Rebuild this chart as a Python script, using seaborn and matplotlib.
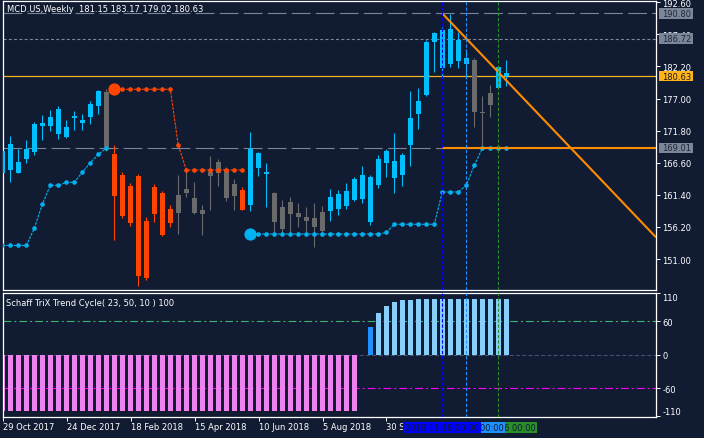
import numpy as np
import pandas as pd
import matplotlib
matplotlib.use("Agg")
import matplotlib.pyplot as plt
import matplotlib.transforms as mtransforms
from matplotlib.patches import Rectangle
import seaborn as sns

# ---------------- data ----------------
symbol_title = "MCD.US,Weekly  181.15 183.17 179.02 180.63"
indicator_title = "Schaff TriX Trend Cycle( 23, 50, 10 ) 100"

bars = list(range(64))
opens = [165.00, 169.60, 165.00, 167.20, 168.40, 172.60, 172.60, 175.30, 170.80, 174.20,
         173.00, 174.05, 175.85, 178.05, 168.00, 164.60, 156.80, 164.45, 147.90, 158.30,
         161.70, 156.80, 158.45, 161.75, 160.90, 158.35, 164.50, 164.90, 165.60, 163.15,
         162.20, 159.80, 168.20, 165.10, 161.70, 155.90, 160.20, 158.45, 157.80, 157.65,
         155.55, 158.70, 159.10, 159.65, 160.55, 160.75, 164.30, 163.05, 166.60, 166.83,
         164.65, 169.50, 174.50, 177.58, 186.20, 188.10, 182.60, 186.54, 183.57, 183.25,
         174.82, 175.95, 178.70, 181.15]
highs = [168.90, 170.90, 168.90, 170.30, 173.25, 174.30, 175.15, 175.80, 173.50, 175.00,
         174.50, 176.60, 178.40, 178.55, 169.50, 165.05, 163.30, 164.80, 157.80, 163.15,
         162.00, 159.70, 164.60, 165.10, 163.50, 159.75, 167.70, 167.20, 165.85, 163.95,
         162.65, 171.60, 168.30, 166.55, 161.85, 160.55, 161.05, 160.05, 159.40, 160.05,
         159.60, 162.35, 162.20, 163.30, 164.30, 166.10, 164.60, 167.85, 168.90, 171.40,
         168.20, 178.20, 178.70, 186.54, 187.80, 188.60, 190.70, 187.80, 185.00, 183.57,
         177.40, 179.20, 182.28, 183.17]
lows = [164.50, 163.40, 164.90, 166.60, 167.85, 170.30, 171.75, 170.40, 170.60, 171.95,
        171.90, 172.80, 174.50, 168.55, 154.10, 157.65, 156.40, 146.70, 147.65, 157.05,
        154.70, 156.20, 155.05, 161.10, 158.30, 154.90, 158.95, 162.80, 160.45, 159.00,
        158.95, 158.85, 164.50, 159.50, 155.25, 155.05, 155.05, 156.25, 155.20, 153.00,
        155.20, 157.15, 158.20, 159.10, 160.40, 160.05, 156.55, 162.55, 164.35, 161.75,
        162.90, 166.10, 172.05, 177.40, 181.30, 180.45, 182.10, 181.95, 180.33, 172.40,
        169.00, 174.00, 178.55, 179.02]
closes = [168.45, 165.47, 166.70, 168.90, 172.90, 173.00, 174.00, 171.30, 172.40, 173.85,
          173.50, 176.10, 178.30, 169.10, 161.25, 158.00, 162.90, 148.30, 157.15, 162.65,
          154.90, 159.10, 161.40, 162.35, 158.45, 158.95, 165.05, 166.70, 160.90, 161.20,
          159.00, 168.80, 165.80, 164.80, 157.05, 159.40, 158.35, 157.80, 157.15, 156.25,
          158.60, 161.05, 161.55, 162.00, 163.95, 164.60, 157.05, 167.20, 168.50, 164.17,
          167.85, 173.85, 176.60, 186.17, 187.62, 181.95, 188.27, 183.09, 182.60, 174.82,
          174.66, 177.90, 182.11, 180.63]
# candle colouring state: U = up trend, D = down trend, F = flat
trend = list("UUUUUUUUUUUUUF" "DDDDDDDD" "FFFFFFFF" "D" "UUU" "FFFFFFF"
             "UUUUUUUUUUUUUUUUUU" "FFF" "UU")

N = None
stop_up = [153.2, 153.2, 153.2, 153.2, 155.97, 159.86, 162.94, 162.94, 163.43, 163.43,
           165.05, 166.6, 167.97, 168.94,
           N, N, N, N, N, N, N, N, N, N, N, N, N, N, N, N, N,
           155.05, 155.05, 155.05, 155.05, 155.05, 155.05, 155.05, 155.05, 155.05, 155.05,
           155.05, 155.05, 155.05, 155.05, 155.05, 155.05, 155.05, 155.3,
           156.63, 156.63, 156.63, 156.63, 156.63, 156.63,
           161.86, 161.86, 161.86, 162.94, 166.18, 168.94, 168.94, 168.94, 168.94]
stop_dn = [N, N, N, N, N, N, N, N, N, N, N, N, N, N,
           178.5, 178.5, 178.5, 178.5, 178.5, 178.5, 178.5, 178.5, 169.42,
           165.42, 165.42, 165.42, 165.42, 165.42, 165.42, 165.42, 165.42,
           N, N, N, N, N, N, N, N, N, N, N, N, N, N, N, N, N,
           N, N, N, N, N, N, N, N, N, N, N, N, N, N, N, N]

stc = [-100, -100, -100, -100, -100, -100, -100, -100, -100, -100,
       -100, -100, -100, -100, -100, -100, -100, -100, -100, -100,
       -100, -100, -100, -100, -100, -100, -100, -100, -100, -100,
       -100, -100, -100, -100, -100, -100, -100, -100, -100, -100,
       -100, -100, -100, -100, -100, 0, 50, 75, 87.5, 94.5,
       98, 98, 100, 100, 100, 100, 100, 100, 100, 100,
       100, 100, 100, 100]

xtick_bars = [0, 8, 16, 24, 32, 40, 48]
xtick_labels = ["29 Oct 2017", "24 Dec 2017", "18 Feb 2018", "15 Apr 2018",
                "10 Jun 2018", "5 Aug 2018", "30 Sep 2018"]
price_ticks = [192.60, 187.40, 182.20, 177.00, 171.80, 166.60, 161.40, 156.20, 151.00]

level_high = 190.80
level_mid = 186.72
last_price = 180.63
level_support = 169.01
trend_p1 = (55, 190.80)
trend_p2 = (71, 169.07)

vline_bars = [62, 58, 55]
vline_colors = ["#2a8f2a", "#1E90FF", "#0000FF"]
vline_labels = ["2019.01.06 00:00", "2018.12.09 00:00", "2018.11.18 00:00"]

# ---------------- style ----------------
BG = "#111c33"
sns.set_theme(style="dark", rc={"axes.facecolor": BG, "figure.facecolor": BG})
plt.rcParams["font.family"] = ["DejaVu Sans"]
plt.rcParams["lines.scale_dashes"] = False
FS = 6

W, H = 704, 439
def rect(x0, x1, ytop, ybot):
    return [x0 / W, 1 - ybot / H, (x1 - x0) / W, (ybot - ytop) / H]

fig = plt.figure(figsize=(W / 100, H / 100), dpi=100)
ax = fig.add_axes(rect(2.7, 656, 2.3, 291))
ax2 = fig.add_axes(rect(2.7, 656, 294, 418))

def bar_of_px(px):
    return (px - 2.3) / 8.0
XL = (bar_of_px(2.7), bar_of_px(656))

# ---------------- main panel ----------------
df = pd.DataFrame(dict(bar=bars, open=opens, high=highs, low=lows, close=closes, trend=trend))
cmap = {"U": "#00BFFF", "D": "#FF4500", "F": "#6A6A6A"}
df["color"] = df["trend"].map(cmap)
body_lo = np.minimum(df["open"], df["close"])
body_h = np.maximum(np.abs(df["close"] - df["open"]), 0.17)

GRAY = "#7b8798"
ax.axhline(level_high, color=GRAY, lw=0.8, dashes=(13.5, 3.8), zorder=1)
ax.axhline(level_mid, color=GRAY, lw=0.8, dashes=(2.2, 1.6), zorder=1)
ax.axhline(level_support, color=GRAY, lw=0.8, dashes=(13.5, 3.8), zorder=1)
ax.axhline(last_price, color="#F2B322", lw=0.9, zorder=1)

ax.vlines(df["bar"], df["low"], df["high"], colors=df["color"], lw=0.8, zorder=3)
ax.bar(df["bar"], body_h, bottom=body_lo, width=0.62, color=df["color"], linewidth=0, zorder=4)

def segments(vals):
    segs, cur = [], []
    for i, v in enumerate(vals):
        if v is None:
            if cur:
                segs.append(cur)
                cur = []
        else:
            cur.append(i)
    if cur:
        segs.append(cur)
    return segs

for vals, col in ((stop_up, "#00B2F0"), (stop_dn, "#FF4500")):
    for seg in segments(vals):
        xs = seg
        ys = [vals[i] for i in seg]
        sns.lineplot(x=xs, y=ys, color=col, lw=0.8, linestyle=(0, (2.0, 0.8)), ax=ax, zorder=5)
        sns.scatterplot(x=xs, y=ys, color=col, s=11, linewidth=0, ax=ax, zorder=6)
        if seg[0] > 0:
            sns.scatterplot(x=[seg[0]], y=[ys[0]], color=col, s=78, linewidth=0, ax=ax, zorder=6)

# support segment + trendline
ax.hlines(level_support, trend_p1[0], XL[1], color="#FF8C00", lw=1.5, zorder=7)
slope = (trend_p2[1] - trend_p1[1]) / (trend_p2[0] - trend_p1[0])
ax.plot([trend_p1[0], XL[1]], [trend_p1[1], trend_p1[1] + slope * (XL[1] - trend_p1[0])],
        color="#FF8C00", lw=1.5, zorder=7, solid_capstyle="butt")

for b, c in zip(vline_bars, vline_colors):
    ax.axvline(b, color=c, lw=0.8, dashes=(2.4, 1.4), zorder=8)
    ax2.axvline(b, color=c, lw=0.8, dashes=(2.4, 1.4), zorder=8)

ax.set_xlim(*XL)
ax.set_ylim(145.98, 192.76)
ax.set_xticks([])
ax.yaxis.tick_right()
ax.set_yticks(price_ticks)
ax.set_yticklabels([f"{p:.2f}" for p in price_ticks])
ax.set_xlabel("")
ax.set_ylabel("")

# price label boxes
tr = mtransforms.blended_transform_factory(ax.transAxes, ax.transData)
axw = 656 - 2.7
for price, fc, tc in ((level_high, GRAY, "#1d2740"), (level_mid, GRAY, "#1d2740"),
                      (last_price, "#FFB31A", "#1a1a1a"), (level_support, GRAY, "#1d2740")):
    ax.add_patch(Rectangle(((659 - 2.7) / axw, price - 0.85), 34 / axw, 1.70,
                           transform=tr, facecolor=fc, edgecolor="none", clip_on=False, zorder=20))
    ax.text((662 - 2.7) / axw, price, f"{price:.2f}", transform=tr, color=tc, fontsize=FS,
            ha="left", va="center", clip_on=False, zorder=21)

# ---------------- indicator panel ----------------
ind = pd.DataFrame(dict(bar=bars, stc=stc))
ind["grp"] = np.where(ind["stc"] < 0, "neg", np.where(ind["stc"] < 60, "mid", "high"))
pal = {"neg": "#EE82EE", "mid": "#1E90FF", "high": "#87CEFA"}
ax2.axhline(60, color="#3CB371", lw=0.8, dashes=(5.6, 2.2, 1.4, 2.2), zorder=0.5)
ax2.axhline(-60, color="#FF00FF", lw=0.8, dashes=(5.6, 2.2, 1.4, 2.2), zorder=0.5)
ax2.axhline(0, color="#46526b", lw=0.8, dashes=(3.0, 1.5), zorder=0.5)
sns.barplot(data=ind, x="bar", y="stc", hue="grp", palette=pal, native_scale=True,
            width=0.55, dodge=False, legend=False, errorbar=None, saturation=1,
            linewidth=0, ax=ax2, zorder=2)

ax2.set_xlim(*XL)
ax2.set_ylim(-111, 110.7)
ax2.yaxis.tick_right()
ax2.set_yticks([-110, -60, 0, 60, 110])
ax2.set_yticklabels(["-110", "-60", "0", "60", "110"])
ax2.set_xticks(xtick_bars)
ax2.set_xticklabels(xtick_labels, ha="left")
ax2.set_xlabel("")
ax2.set_ylabel("")
yt = ax2.yaxis.get_major_ticks()
yt[0].label2.set_va("bottom")
yt[-1].label2.set_va("top")

for a in (ax, ax2):
    a.grid(False)
    for s in a.spines.values():
        s.set_visible(True)
        s.set_color("white")
        s.set_linewidth(0.9)
    a.tick_params(axis="y", which="both", right=True, left=False, labelright=True,
                  labelleft=False, colors="white", labelcolor="white", labelsize=FS,
                  length=3.0, width=0.7, pad=1.4, direction="out")
ax2.tick_params(axis="x", bottom=True, colors="white", labelcolor="white", labelsize=FS,
                length=3.0, width=0.7, pad=0.5, direction="out")

# date boxes for vertical lines
trd = mtransforms.blended_transform_factory(ax2.transData, fig.transFigure)
for k, (b, c, lab) in enumerate(zip(vline_bars, vline_colors, vline_labels)):
    ax2.add_patch(Rectangle((b - 39 / 8.0, (439 - 434) / H), 78 / 8.0, 11 / H, transform=trd,
                            facecolor=c, edgecolor="none", clip_on=False, zorder=30 + 2 * k))
    ax2.text(b, (439 - 428.6) / H, lab, transform=trd, color="#0d1633", fontsize=FS,
             ha="center", va="center", clip_on=False, zorder=31 + 2 * k)

fig.text(7 / W, 1 - 9.3 / H, symbol_title, color="white", fontsize=FS, ha="left", va="center")
fig.text(6 / W, 1 - 303.3 / H, indicator_title, color="white", fontsize=FS, ha="left", va="center")

fig.savefig("out.png", dpi=100, facecolor=BG)
